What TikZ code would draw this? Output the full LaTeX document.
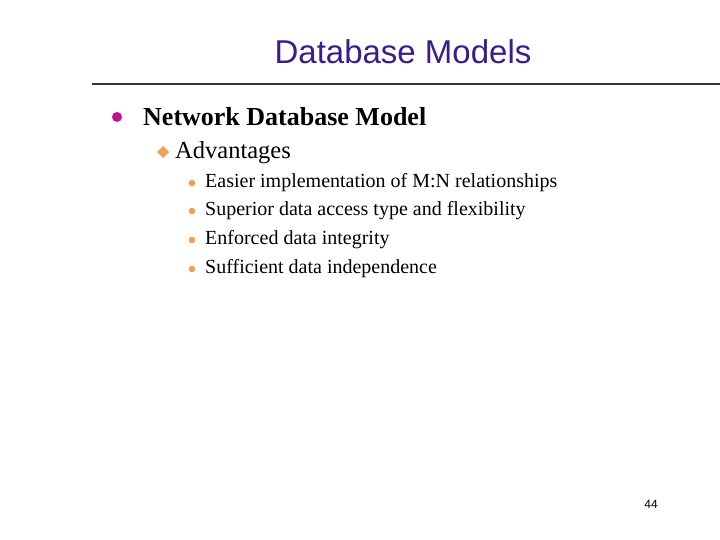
\documentclass[tikz,border=0pt]{standalone}
\usepackage{fontspec}
\setmainfont{Liberation Serif}
\setsansfont{Liberation Sans}
\definecolor{ttl}{HTML}{3A1C8C}
\definecolor{mag}{HTML}{C0138C}
\definecolor{org}{HTML}{F0A050}
\begin{document}
\begin{tikzpicture}[x=1pt,y=-1pt,
  txt/.style={anchor=west,inner sep=0pt}]
\useasboundingbox (0,0) rectangle (720,540);
\node[inner sep=0pt,text=ttl] (title) at (403,52) {\sffamily\fontsize{33}{34}\selectfont Database Models};
\draw[line width=1.5pt,black!80] (92,84) -- (720,84);
\fill[mag] (117,117) circle (5);
\node[txt] (l1) at (143,117) {\fontsize{26}{27}\selectfont\bfseries Network Database Model};
\fill[org] (163,146) -- (169,152) -- (163,158) -- (157,152) -- cycle;
\node[txt] (l2) at (175,153) {\fontsize{24.5}{25}\selectfont Advantages};
\foreach \y/\t in {183/{Easier implementation of M:N relationships},211/{Superior data access type and flexibility},240/{Enforced data integrity},269/{Sufficient data independence}}{
  \fill[org] (192,\y) circle (3.3);
  \node[txt] at (205,\y) {\fontsize{20}{21}\selectfont \t};
}
\node[inner sep=0pt] (pg) at (651,504) {\sffamily\fontsize{12}{12}\selectfont 44};
\end{tikzpicture}
\end{document}
